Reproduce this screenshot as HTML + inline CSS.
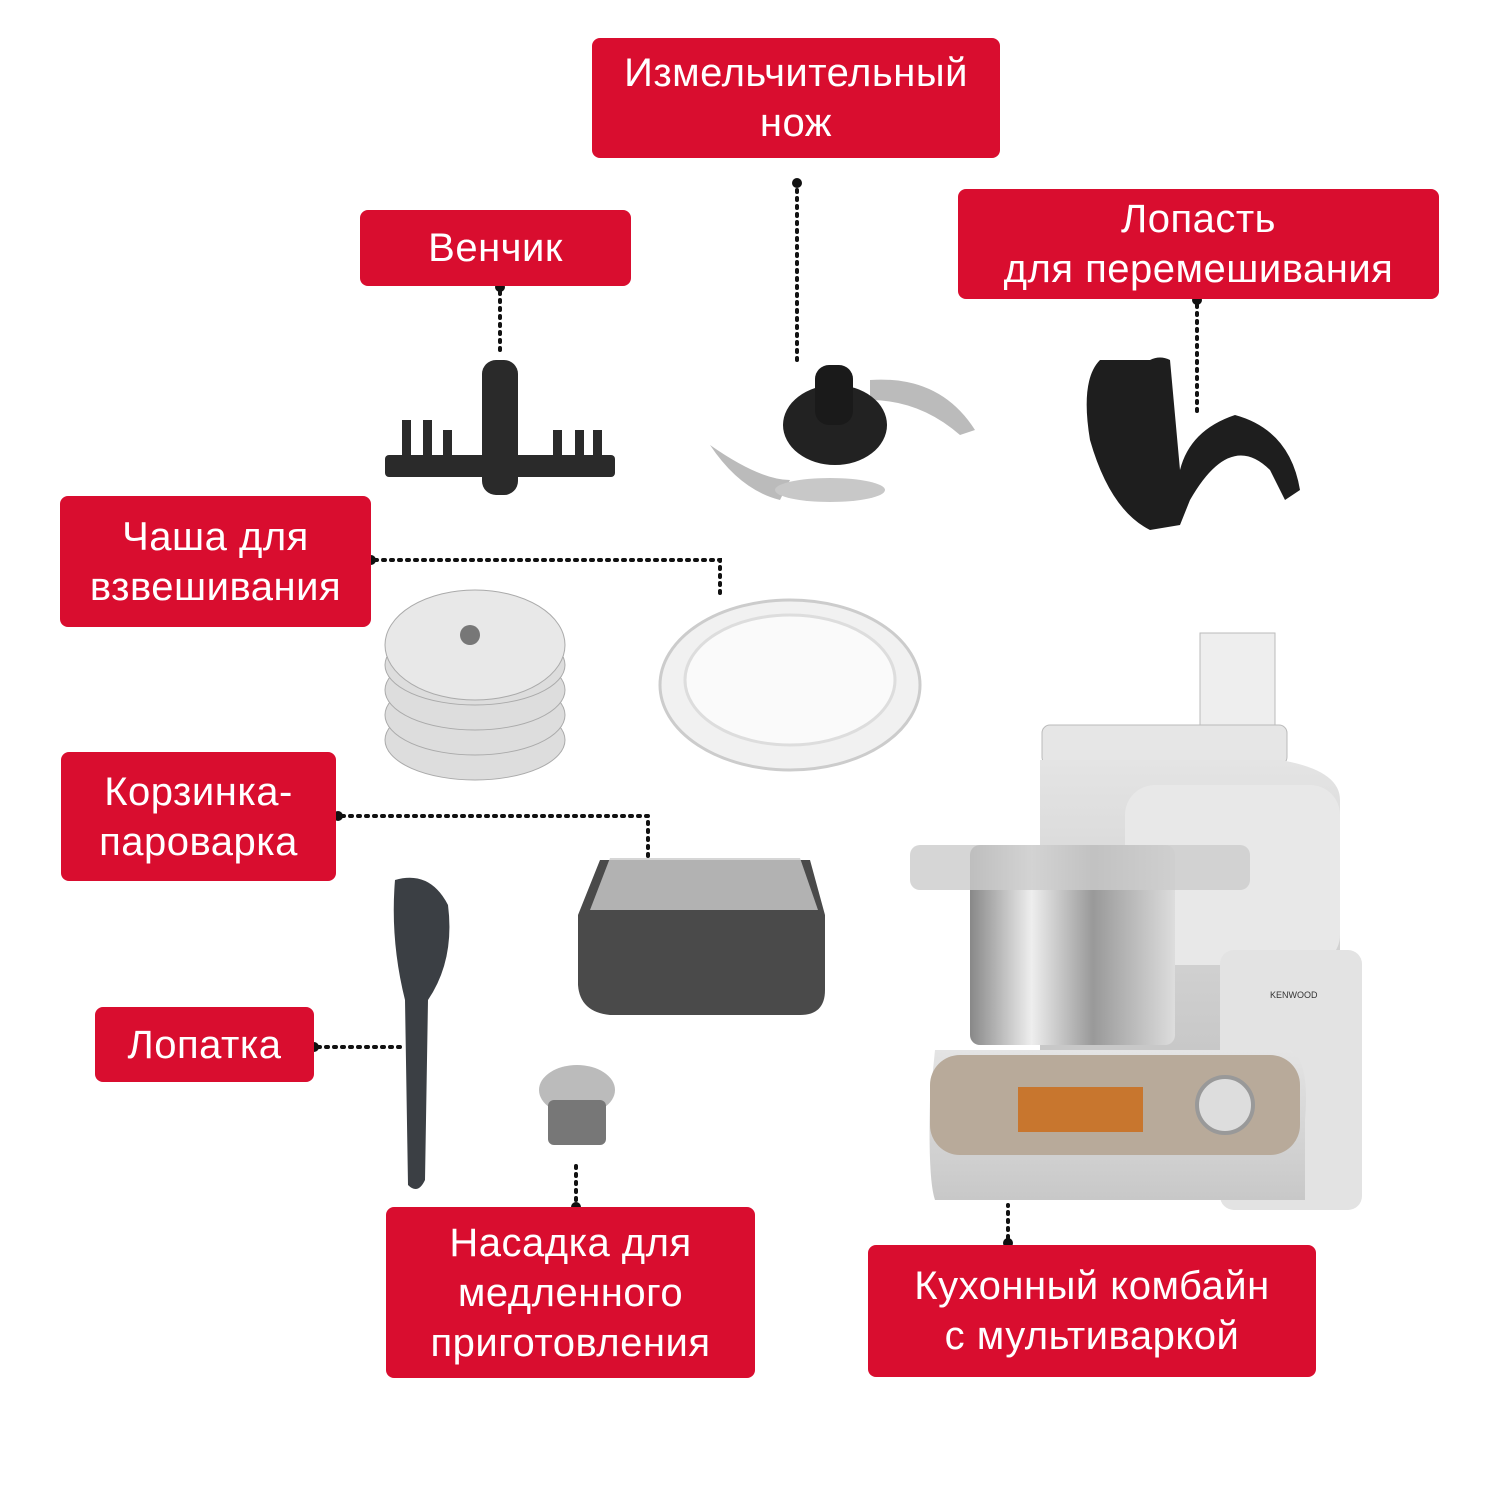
<!DOCTYPE html>
<html><head><meta charset="utf-8"><style>
html,body{margin:0;padding:0;background:#fff;}
#c{position:relative;width:1500px;height:1500px;overflow:hidden;font-family:"Liberation Sans","DejaVu Sans",sans-serif;}
.l{position:absolute;background:#d90d2f;color:#fff;border-radius:8px;display:flex;align-items:center;justify-content:center;text-align:center;font-size:40px;line-height:50px;letter-spacing:0.5px;}
svg{position:absolute;left:0;top:0;}
</style></head><body><div id="c">
<svg width="1500" height="1500">
<defs>
<linearGradient id="st" x1="0" x2="1"><stop offset="0" stop-color="#888"/><stop offset=".3" stop-color="#eee"/><stop offset=".6" stop-color="#999"/><stop offset="1" stop-color="#ddd"/></linearGradient>
<linearGradient id="bd" x1="0" x2="0" y1="0" y2="1"><stop offset="0" stop-color="#e4e4e4"/><stop offset="1" stop-color="#c8c8c8"/></linearGradient>
</defs>
<g stroke="#111" stroke-width="4" stroke-dasharray="2 6" stroke-linecap="round" fill="none">
<path d="M797 190V365"/><path d="M500 292V355"/><path d="M1197 305V415"/>
<path d="M375 560H720V598"/><path d="M342 816H648V862"/><path d="M318 1047H400"/>
<path d="M576 1200V1160"/><path d="M1008 1238V1205"/>
</g>
<g fill="#111"><circle cx="797" cy="183" r="5"/><circle cx="500" cy="287" r="5"/><circle cx="1197" cy="300" r="5"/><circle cx="371" cy="560" r="5"/><circle cx="338" cy="816" r="5"/><circle cx="314" cy="1047" r="5"/><circle cx="576" cy="1207" r="5"/><circle cx="1008" cy="1243" r="5"/></g>
<!-- whisk -->
<g fill="#2a2a2a"><rect x="385" y="455" width="230" height="22" rx="4"/><rect x="482" y="360" width="36" height="135" rx="14"/>
<rect x="402" y="420" width="9" height="40"/><rect x="423" y="420" width="9" height="40"/><rect x="443" y="430" width="9" height="30"/><rect x="553" y="430" width="9" height="30"/><rect x="575" y="430" width="9" height="30"/><rect x="593" y="430" width="9" height="30"/></g>
<!-- blade -->
<path d="M710 445Q760 480 790 480L780 500Q740 490 710 445Z" fill="#bbb"/>
<path d="M870 380Q940 375 975 430L960 435Q920 400 870 400Z" fill="#bbb"/>
<ellipse cx="830" cy="490" rx="55" ry="12" fill="#c8c8c8"/>
<ellipse cx="835" cy="425" rx="52" ry="40" fill="#222"/><rect x="815" y="365" width="38" height="60" rx="14" fill="#1a1a1a"/>
<!-- paddle -->
<path d="M1100 360Q1080 380 1090 440Q1110 510 1150 530L1180 525L1190 500Q1230 430 1270 470L1285 500L1300 490Q1290 430 1235 415Q1190 430 1180 470L1170 360Q1160 355 1150 360Z" fill="#1e1e1e"/>
<!-- discs -->
<g fill="#ddd" stroke="#aaa"><ellipse cx="475" cy="740" rx="90" ry="40"/><ellipse cx="475" cy="715" rx="90" ry="40"/><ellipse cx="475" cy="690" rx="90" ry="40"/><ellipse cx="475" cy="665" rx="90" ry="40"/><ellipse cx="475" cy="645" rx="90" ry="55" fill="#e8e8e8"/></g>
<circle cx="470" cy="635" r="10" fill="#777"/>
<!-- weighing bowl -->
<ellipse cx="790" cy="685" rx="130" ry="85" fill="#f1f1f1" stroke="#ccc" stroke-width="3"/><ellipse cx="790" cy="680" rx="105" ry="65" fill="#fafafa" stroke="#ddd" stroke-width="3"/>
<!-- steamer -->
<path d="M578 915L600 860H810L825 915V990Q825 1015 800 1015H610Q580 1012 578 985Z" fill="#4a4a4a"/>
<path d="M590 910L610 858H800L818 910Z" fill="#ccc" opacity=".8"/>
<!-- spatula -->
<path d="M395 880Q430 870 448 905Q455 960 428 1000L425 1180Q418 1195 408 1185L405 1000Q390 940 395 880Z" fill="#3b3f44"/>
<!-- slow cook attachment -->
<ellipse cx="577" cy="1090" rx="38" ry="25" fill="#bbb"/><rect x="548" y="1100" width="58" height="45" rx="6" fill="#777"/>
<!-- machine -->
<rect x="1200" y="633" width="75" height="100" fill="#eee" stroke="#bbb"/>
<rect x="1042" y="725" width="245" height="40" rx="8" fill="#e6e6e6" stroke="#bbb"/>
<path d="M1040 760H1280Q1340 770 1340 800V960H1220V1050H1040Z" fill="url(#bd)"/>
<rect x="1125" y="785" width="215" height="180" rx="30" fill="#e8e8e8"/>
<rect x="1220" y="950" width="142" height="260" rx="14" fill="#e3e3e3"/>
<rect x="970" y="845" width="205" height="200" rx="10" fill="url(#st)"/>
<rect x="910" y="845" width="340" height="45" rx="10" fill="#ccc" opacity=".8"/>
<path d="M935 1050H1290Q1310 1060 1305 1120V1200H935Q928 1180 930 1100Z" fill="url(#bd)"/>
<rect x="930" y="1055" width="370" height="100" rx="30" fill="#b8aa9a"/>
<rect x="1018" y="1087" width="125" height="45" fill="#c8762e"/>
<circle cx="1225" cy="1105" r="28" fill="#ddd" stroke="#999" stroke-width="4"/>
<text x="1270" y="998" font-family="Liberation Sans" font-size="9" fill="#333">KENWOOD</text>
</svg>
<div class="l" style="left:592px;top:38px;width:408px;height:120px;">Измельчительный<br>нож</div>
<div class="l" style="left:360px;top:210px;width:271px;height:76px;">Венчик</div>
<div class="l" style="left:958px;top:189px;width:481px;height:110px;">Лопасть<br>для перемешивания</div>
<div class="l" style="left:60px;top:496px;width:311px;height:131px;">Чаша для<br>взвешивания</div>
<div class="l" style="left:61px;top:752px;width:275px;height:129px;">Корзинка-<br>пароварка</div>
<div class="l" style="left:95px;top:1007px;width:219px;height:75px;">Лопатка</div>
<div class="l" style="left:386px;top:1207px;width:369px;height:171px;">Насадка для<br>медленного<br>приготовления</div>
<div class="l" style="left:868px;top:1245px;width:448px;height:132px;">Кухонный комбайн<br>с мультиваркой</div>
</div></body></html>
